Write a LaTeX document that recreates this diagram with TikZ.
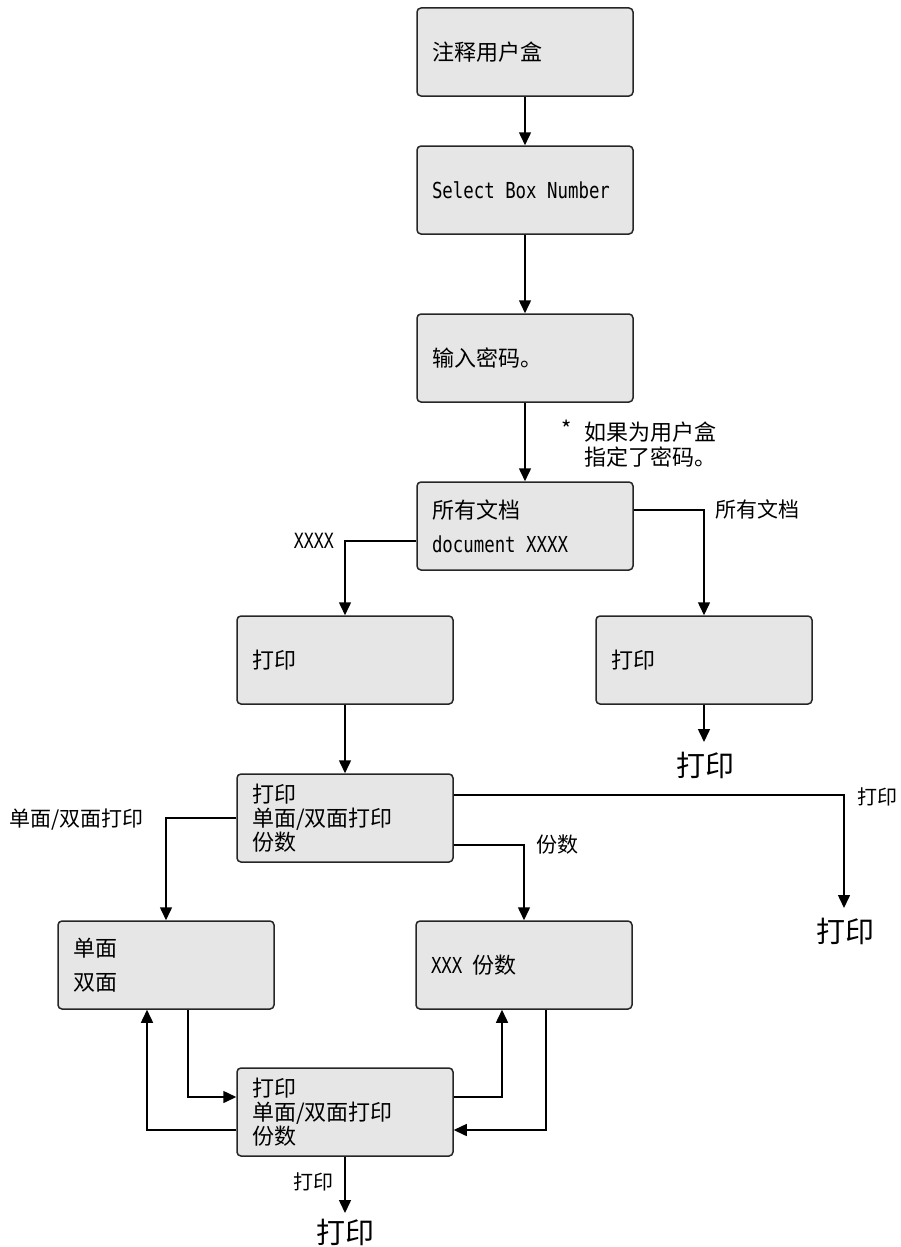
\documentclass[tikz,border=0pt]{standalone}
\usepackage{fontspec}
\setmainfont{Noto Sans CJK SC}
\newfontfamily\lat[FakeStretch=0.79]{DejaVu Sans Mono}
\newcommand\msp{\hspace{10.5pt}}
\usetikzlibrary{arrows.meta}
\definecolor{boxgray}{HTML}{E6E6E6}
\tikzset{
  box/.style={draw=black!85, line width=1.5pt, fill=boxgray, rounded corners=4pt,
    minimum width=216pt, minimum height=88pt, text width=186pt, inner xsep=15pt,
    inner ysep=0pt, align=left, font=\fontsize{22}{24}\selectfont},
  wide/.style={font=\fontsize{22}{34}\selectfont},
  conn/.style={line width=1.5pt, -{Triangle[length=13pt,width=12pt]}},
  lbl/.style={inner sep=0pt, align=left, font=\fontsize{21}{25}\selectfont},
  term/.style={inner sep=0pt, font=\fontsize{29}{32}\selectfont}
}
\begin{document}
\begin{tikzpicture}[x=1pt,y=-1pt]
\useasboundingbox (0,0) rectangle (900,1247);
% boxes
\node[box] (b1) at (525,52) {注释用户盒};
\node[box] (b2) at (525,190) {\lat Select\msp Box\msp Number};
\node[box] (b3) at (525,358) {输入密码。};
\node[box,wide] (b4) at (525,526) {所有文档\\{\lat document\msp XXXX}};
\node[box] (b5) at (345,660) {打印};
\node[box] (b6) at (704,660) {打印};
\node[box] (b7) at (345,818) {打印\\单面/双面打印\\份数};
\node[box,wide] (b8) at (166,965) {单面\\双面};
\node[box] (b9) at (524,965) {{\lat XXX}\msp 份数};
\node[box] (b10) at (345,1112) {打印\\单面/双面打印\\份数};
% terminals
\coordinate (t1) at (704,742);
\coordinate (t2) at (844,908);
\coordinate (t3) at (345,1213);
\node[term] (p1) at (705,765) {打印};
\node[term] (p2) at (845,931) {打印};
\node[term] (p3) at (345,1232) {打印};
% labels
\node[lbl,font=\fontsize{22}{25}\selectfont,anchor=west] (note) at (584,445) {如果为用户盒\\指定了密码。};
\node[lbl,font=\fontsize{22}{25}\selectfont] (star) at (567,429) {*};
\node[lbl,anchor=east] (lx) at (334,541) {\lat XXXX};
\node[lbl,anchor=west] (la) at (715,509) {所有文档};
\node[lbl,anchor=west] (ld) at (9,820) {单面/双面打印};
\node[lbl,anchor=west] (lf) at (536,845) {份数};
\node[lbl,anchor=west,font=\fontsize{20}{24}\selectfont] (lp1) at (857,797) {打印};
\node[lbl,anchor=east,font=\fontsize{20}{24}\selectfont] (lp2) at (334,1182) {打印};
% connectors
\draw[conn] (b1) -- (b2);
\draw[conn] (b2) -- (b3);
\draw[conn] (b3) -- (b4);
\draw[conn] ([yshift=-15pt]b4.west) -| (b5.north);
\draw[conn] ([yshift=16pt]b4.east) -| (b6.north);
\draw[conn] (b5) -- (b7);
\draw[conn] (b6.south) -- (t1);
\draw[conn] ([yshift=23pt]b7.east) -| (t2);
\draw[conn] ([yshift=-27pt]b7.east) -| (b9.north);
\draw[conn] (b7.west) -| (b8.north);
\draw[conn] ([xshift=22pt]b8.south) |- ([yshift=15pt]b10.west);
\draw[conn] ([yshift=-18pt]b10.west) -| ([xshift=-19pt]b8.south);
\draw[conn] ([yshift=15pt]b10.east) -| ([xshift=-22pt]b9.south);
\draw[conn] ([xshift=22pt]b9.south) |- ([yshift=-18pt]b10.east);
\draw[conn] (b10.south) -- (t3);
\end{tikzpicture}
\end{document}
